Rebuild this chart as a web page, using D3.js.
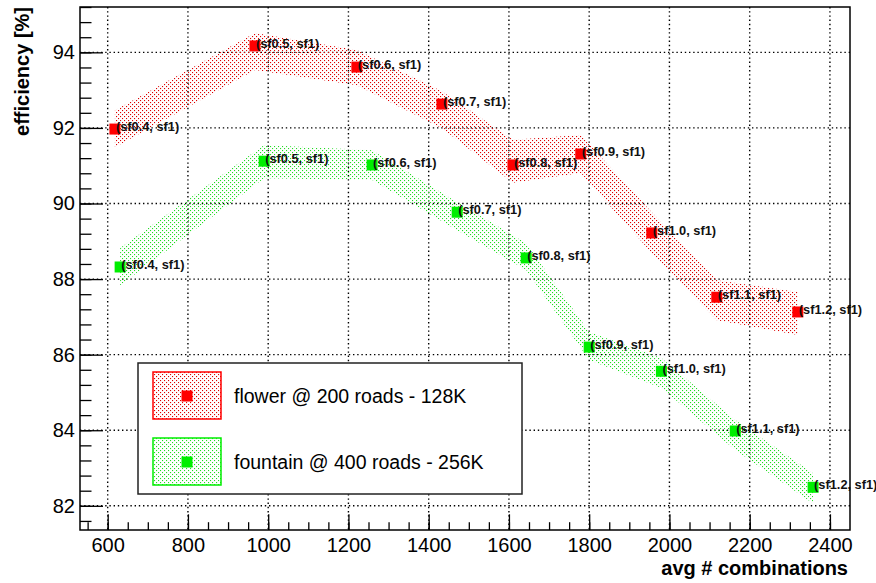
<head>
    <style>
        body {
            margin: 0;
            background: white;
        }
        svg {
            font-family: "Liberation Sans", Arial, sans-serif;
        }
        .grid line {
            stroke: #000;
            stroke-width: 1.4;
            stroke-dasharray: 1.4, 2.8;
        }
        .axis path { display: none; }
        .axis line { stroke: #000; stroke-width: 1.3; }
        .axis text { font-size: 20px; fill: #000; }
        .ptlabel {
            font-size: 12.8px;
            font-weight: bold;
            fill: #111;
        }
    </style>
</head>
<body>
    <script src="https://d3js.org/d3.v7.min.js"></script>
    <div id="chart"></div>
    <script>
        // data
        let ptLabels = ["(sf0.4, sf1)", "(sf0.5, sf1)", "(sf0.6, sf1)", "(sf0.7, sf1)", "(sf0.8, sf1)",
                        "(sf0.9, sf1)", "(sf1.0, sf1)", "(sf1.1, sf1)", "(sf1.2, sf1)"];

        let flowerX  = [618, 967, 1221, 1433, 1610, 1779, 1956, 2118, 2320];
        let flowerY  = [91.97, 94.17, 93.61, 92.63, 91.02, 91.31, 89.22, 87.52, 87.13];
        let flowerHi = [92.47, 94.51, 94.06, 92.97, 91.69, 91.81, 89.77, 87.97, 87.66];
        let flowerLo = [91.49, 93.53, 93.13, 91.99, 90.55, 90.81, 88.69, 86.91, 86.52];

        let fountainX  = [631, 990, 1259, 1471, 1643, 1800, 1980, 2164, 2358];
        let fountainY  = [88.32, 91.12, 91.02, 89.77, 88.56, 86.20, 85.56, 83.98, 82.49];
        let fountainHi = [88.82, 91.55, 91.41, 90.03, 88.95, 86.60, 85.91, 84.27, 82.86];
        let fountainLo = [87.84, 90.67, 90.62, 89.29, 88.24, 85.86, 85.12, 83.48, 82.06];

        let xTicks = [600, 800, 1000, 1200, 1400, 1600, 1800, 2000, 2200, 2400];
        let yTicks = [82, 84, 86, 88, 90, 92, 94];

        let legendNames = ["flower @ 200 roads - 128K", "fountain @ 400 roads - 256K"];

        let w = 876, h = 583;
        let fl = 80, fr = 850, ft = 7, fb = 530; // frame edges

        let x = d3.scaleLinear().domain([531, 2450]).range([fl, fr]);
        let y = d3.scaleLinear().domain([81.36, 95.2]).range([fb, ft]);

        let svg = d3.select("#chart").append("svg")
            .attr("width", w)
            .attr("height", h);

        let defs = svg.append("defs");
        function dotPattern(id, col) {
            let p = defs.append("pattern")
                .attr("id", id)
                .attr("patternUnits", "userSpaceOnUse")
                .attr("width", 4)
                .attr("height", 4);
            p.append("rect").attr("x", 0).attr("y", 0).attr("width", 1.1).attr("height", 1.1).attr("fill", col);
            p.append("rect").attr("x", 2).attr("y", 2).attr("width", 1.1).attr("height", 1.1).attr("fill", col);
        }
        dotPattern("dotRed", "#dd0000");
        dotPattern("dotGreen", "#22dd22");

        // grid
        let grid = svg.append("g").attr("class", "grid");
        grid.selectAll(".vx").data(xTicks).enter().append("line")
            .attr("x1", function(d) { return x(d); })
            .attr("x2", function(d) { return x(d); })
            .attr("y1", ft).attr("y2", fb);
        grid.selectAll(".hy").data(yTicks).enter().append("line")
            .attr("y1", function(d) { return y(d); })
            .attr("y2", function(d) { return y(d); })
            .attr("x1", fl).attr("x2", fr);

        // bands
        function toRows(xs, ys, hi, lo) {
            return xs.map(function(v, i) { return { x: v, y: ys[i], hi: hi[i], lo: lo[i], label: ptLabels[i] }; });
        }
        let series = [
            { rows: toRows(flowerX, flowerY, flowerHi, flowerLo), pat: "url(#dotRed)", col: "#ff0000" },
            { rows: toRows(fountainX, fountainY, fountainHi, fountainLo), pat: "url(#dotGreen)", col: "#00ee00" }
        ];

        let area = d3.area()
            .x(function(d) { return x(d.x); })
            .y0(function(d) { return y(d.lo); })
            .y1(function(d) { return y(d.hi); });

        series.forEach(function(s) {
            svg.append("path").datum(s.rows)
                .attr("d", area)
                .attr("fill", s.pat);
        });

        let ms = 11; // marker size
        series.forEach(function(s) {
            svg.append("g").selectAll("rect").data(s.rows).enter().append("rect")
                .attr("x", function(d) { return x(d.x) - ms/2; })
                .attr("y", function(d) { return y(d.y) - ms/2; })
                .attr("width", ms).attr("height", ms)
                .attr("fill", s.col);
        });
        series.forEach(function(s) {
            svg.append("g").selectAll("text").data(s.rows).enter().append("text")
                .attr("class", "ptlabel")
                .attr("x", function(d) { return x(d.x) + 1; })
                .attr("y", function(d) { return y(d.y) + 2; })
                .text(function(d) { return d.label; });
        });

        // axes, ticks pointing inwards
        let xMinor = d3.range(550, 2450, 50);
        let yMinor = d3.range(0, 35).map(function(i) { return 81.6 + i*0.4; }).filter(function(v) { return v < 95.2; });

        svg.append("g").attr("class", "axis")
            .attr("transform", "translate(0," + fb + ")")
            .call(d3.axisBottom(x).tickValues(xMinor).tickSize(-7.8).tickSizeOuter(0).tickFormat(""));
        svg.append("g").attr("class", "axis")
            .attr("transform", "translate(0," + fb + ")")
            .call(d3.axisBottom(x).tickValues(xTicks).tickSize(-15.7).tickSizeOuter(0).tickPadding(8).tickFormat(d3.format("d")));
        svg.append("g").attr("class", "axis")
            .attr("transform", "translate(" + fl + ",0)")
            .call(d3.axisLeft(y).tickValues(yMinor).tickSize(-11.5).tickSizeOuter(0).tickFormat(""));
        svg.append("g").attr("class", "axis")
            .attr("transform", "translate(" + fl + ",0)")
            .call(d3.axisLeft(y).tickValues(yTicks).tickSize(-23).tickSizeOuter(0).tickPadding(5).tickFormat(d3.format("d")));

        // frame
        svg.append("rect")
            .attr("x", fl).attr("y", ft)
            .attr("width", fr - fl).attr("height", fb - ft)
            .attr("fill", "none").attr("stroke", "#000").attr("stroke-width", 1.5);

        // axis titles
        svg.append("text")
            .attr("x", 848).attr("y", 575)
            .attr("text-anchor", "end")
            .attr("font-size", 20).attr("font-weight", "bold")
            .text("avg # combinations");
        svg.append("text")
            .attr("transform", "translate(29,7) rotate(-90)")
            .attr("text-anchor", "end")
            .attr("font-size", 20).attr("font-weight", "bold")
            .text("efficiency [%]");

        // legend
        let lg = svg.append("g");
        lg.append("rect")
            .attr("x", 138).attr("y", 363).attr("width", 384).attr("height", 131)
            .attr("fill", "white").attr("stroke", "#222").attr("stroke-width", 1.5);
        let legendRows = lg.selectAll(".entry").data(series).enter().append("g")
            .attr("transform", function(d, i) { return "translate(0," + (i * 66) + ")"; });
        legendRows.append("rect")
            .attr("x", 153).attr("y", 372).attr("width", 68).attr("height", 47)
            .attr("fill", function(d) { return d.pat; })
            .attr("stroke", function(d) { return d.col; })
            .attr("stroke-width", 1.5);
        legendRows.append("rect")
            .attr("x", 187 - ms/2).attr("y", 396 - ms/2).attr("width", ms).attr("height", ms)
            .attr("fill", function(d) { return d.col; });
        legendRows.append("text")
            .attr("x", 234).attr("y", 403)
            .attr("font-size", 19.5)
            .text(function(d, i) { return legendNames[i]; });
    </script>
</body>
